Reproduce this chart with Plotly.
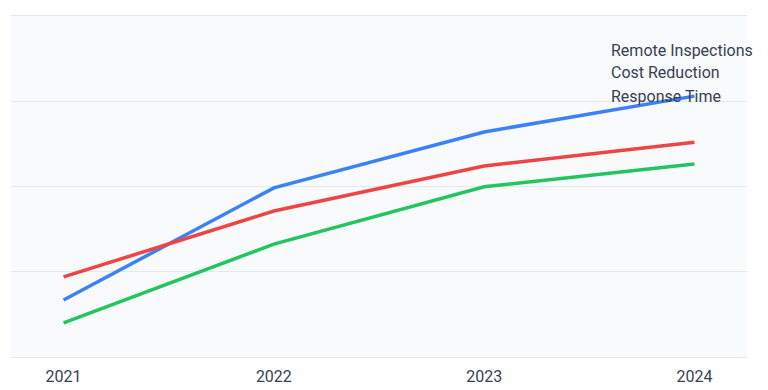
import plotly.graph_objects as go

years = ["2021", "2022", "2023", "2024"]
series_names = ["Remote Inspections", "Cost Reduction", "Response Time"]
remote_inspections = [16.7, 49.6, 66.0, 76.5]
cost_reduction = [23.5, 42.8, 56.0, 63.0]
response_time = [10.0, 33.1, 49.9, 56.6]
colors = ["#3b82f6", "#ef4444", "#22c55e"]

values = [remote_inspections, cost_reduction, response_time]

FONT = "Roboto"

fig = go.Figure()
for name, vals, col in zip(series_names, values, colors):
    fig.add_trace(go.Scatter(x=years, y=vals, mode="lines", name=name,
                             line=dict(color=col, width=3.5), showlegend=False))

legend_y = [0.900, 0.833, 0.765]
for name, ly in zip(series_names, legend_y):
    fig.add_annotation(x=0.812, y=ly, xref="paper", yref="paper", text=name,
                       showarrow=False, xanchor="left", yanchor="middle",
                       font=dict(size=16, color="#374151", family=FONT))

fig.update_layout(
    width=768, height=390,
    margin=dict(l=3, r=29, t=8, b=41),
    paper_bgcolor="#ffffff",
    plot_bgcolor="#f8fafc",
    font=dict(family=FONT, size=16, color="#374151"),
    xaxis=dict(type="category", range=[-0.25, 3.25], showgrid=False,
               showline=True, mirror=True, linecolor="#e2e8f0", linewidth=1,
               ticks="", zeroline=False, ticklabelstandoff=5),
    yaxis=dict(range=[0, 100], dtick=25, showticklabels=False, showgrid=True,
               gridcolor="#e2e8f0", gridwidth=1, zeroline=False,
               showline=False),
)

fig.write_html("out.html")
